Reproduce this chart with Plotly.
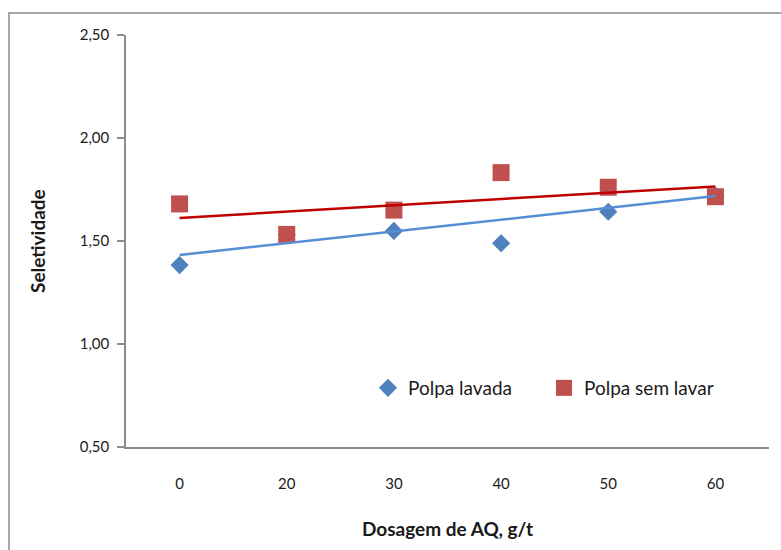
import plotly.graph_objects as go

categories = ["0", "20", "30", "40", "50", "60"]
polpa_lavada = [1.383, 1.53, 1.549, 1.489, 1.642, 1.72]
polpa_sem_lavar = [1.680, 1.532, 1.650, 1.832, 1.761, 1.715]
trend_x = ["0", "60"]
trend_lavada = [1.432, 1.718]
trend_sem_lavar = [1.612, 1.765]
y_ticks = [0.5, 1.0, 1.5, 2.0, 2.5]

BLUE = "#4F81BD"
RED = "#C0504D"
FONT = "Lato"
TXT = "#1a1a1a"

fig = go.Figure()
fig.add_trace(go.Scatter(
    x=categories, y=polpa_lavada, mode="markers", name="Polpa lavada",
    marker=dict(symbol="diamond", size=14, color=BLUE),
))
fig.add_trace(go.Scatter(
    x=categories, y=polpa_sem_lavar, mode="markers", name="Polpa sem lavar",
    marker=dict(symbol="square", size=17, color=RED),
))
fig.add_trace(go.Scatter(
    x=trend_x, y=trend_lavada, mode="lines", showlegend=False,
    line=dict(color="#558ED5", width=2.5), hoverinfo="skip",
))
fig.add_trace(go.Scatter(
    x=trend_x, y=trend_sem_lavar, mode="lines", showlegend=False,
    line=dict(color="#C00000", width=2.5), hoverinfo="skip",
))

L, R, T, B = 126, 12, 35, 103
W, H = 781, 550
pw, ph = W - L - R, H - T - B

def px2x(px):
    return (px - L) / pw

def py2y(py):
    return (H - B - py) / ph

fig.update_layout(
    width=W, height=H,
    margin=dict(l=L, r=R, t=T, b=B, pad=0, autoexpand=False),
    paper_bgcolor="white", plot_bgcolor="white",
    separators=",.",
    font=dict(family=FONT, size=15, color=TXT),
    showlegend=True,
    legend=dict(
        orientation="h", x=px2x(368), y=py2y(388), xanchor="left", yanchor="middle",
        bgcolor="rgba(0,0,0,0)", font=dict(family=FONT, size=19, color=TXT),
        itemwidth=30, tracegroupgap=0, entrywidth=131,
    ),
    xaxis=dict(
        type="category", categoryorder="array", categoryarray=categories,
        range=[-0.5, 5.5], showgrid=False, zeroline=False,
        showline=True, linecolor="#8c8c8c", linewidth=1.5,
        ticks="", ticklabelstandoff=22,
        tickfont=dict(family=FONT, size=15, color=TXT),
    ),
    yaxis=dict(
        range=[0.5, 2.5], tickvals=y_ticks, tickformat=".2f",
        showgrid=False, zeroline=False,
        showline=True, linecolor="#8c8c8c", linewidth=1.5,
        ticks="outside", ticklen=7, tickcolor="#8c8c8c", tickwidth=1.5,
        ticklabelstandoff=5,
        tickfont=dict(family=FONT, size=15, color=TXT),
    ),
    annotations=[
        dict(text="<b>Seletividade</b>", x=px2x(37), y=0.5, xref="paper", yref="paper",
             textangle=-90, showarrow=False, xanchor="center", yanchor="middle",
             font=dict(family=FONT, size=19, color=TXT)),
        dict(text="<b>Dosagem de AQ, g/t</b>", x=0.5, y=py2y(528), xref="paper", yref="paper",
             showarrow=False, xanchor="center", yanchor="middle",
             font=dict(family=FONT, size=19, color=TXT)),
    ],
    shapes=[
        dict(type="rect", xref="paper", yref="paper",
             x0=px2x(9), x1=px2x(800), y0=py2y(13), y1=py2y(580),
             line=dict(color="#8c8c8c", width=1.5), fillcolor="rgba(0,0,0,0)", layer="below"),
    ],
)

fig.write_html("out.html")
